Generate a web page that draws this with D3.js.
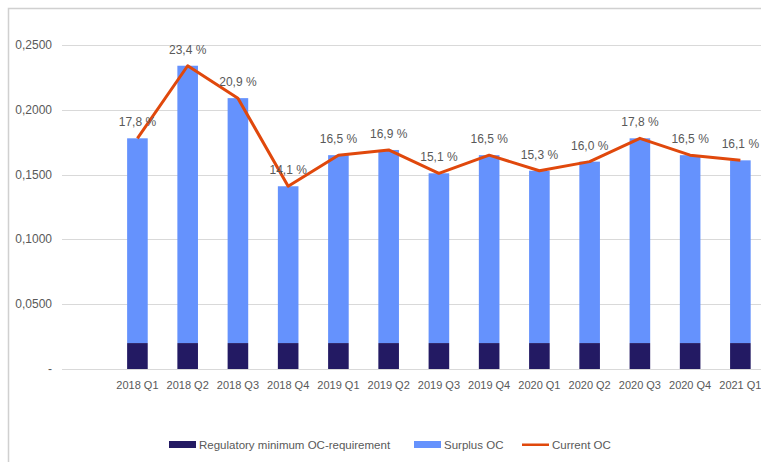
<!DOCTYPE html>
<html>
<head>
<meta charset="utf-8">
<script src="https://cdn.jsdelivr.net/npm/d3@7"></script>
<style>
  body { margin: 0; background: #fff; }
  text { font-family: "Liberation Sans", Arial, sans-serif; fill: #595959; }
</style>
</head>
<body>
<script>
const quarters = ["2018 Q1","2018 Q2","2018 Q3","2018 Q4","2019 Q1","2019 Q2","2019 Q3","2019 Q4","2020 Q1","2020 Q2","2020 Q3","2020 Q4","2021 Q1"];
const regMin = [0.02,0.02,0.02,0.02,0.02,0.02,0.02,0.02,0.02,0.02,0.02,0.02,0.02];
const currentOC = [0.178,0.234,0.209,0.141,0.165,0.169,0.151,0.165,0.153,0.160,0.178,0.165,0.161];
const yTicks = [0, 0.05, 0.10, 0.15, 0.20, 0.25];

const w = 761, h = 462;
const colReg = "#231a63", colSur = "#6592fd", colLine = "#e0480c";

const svg = d3.select("body").append("svg")
  .attr("width", w).attr("height", h);

// frame (left and top edges visible)
svg.append("path")
  .attr("d", "M8.5,462V8.5H761")
  .attr("fill", "none").attr("stroke", "#d0d0d0").attr("stroke-width", 1.5);

const y = d3.scaleLinear().domain([0, 0.25]).range([369, 45]);
const x = d3.scaleBand().domain(quarters).range([112.3, 765.5]).paddingInner(0.59).paddingOuter(0.295);

// gridlines
svg.append("g").selectAll("line")
  .data(yTicks)
  .enter().append("line")
  .attr("x1", 62).attr("x2", 761)
  .attr("y1", d => Math.round(y(d)) + 0.5).attr("y2", d => Math.round(y(d)) + 0.5)
  .attr("stroke", "#d9d9d9").attr("stroke-width", 1);

const fmt = d3.format(".4f");
svg.append("g").selectAll("text")
  .data(yTicks)
  .enter().append("text")
  .attr("x", 52).attr("y", d => y(d) + 4)
  .attr("text-anchor", "end")
  .style("font-size", "12px")
  .text(d => d === 0 ? "-" : fmt(d).replace(".", ","));

// bars
const rows = quarters.map((q, i) => ({ q, reg: regMin[i], sur: currentOC[i] - regMin[i], tot: currentOC[i] }));

svg.append("g").selectAll("rect")
  .data(rows).enter().append("rect")
  .attr("x", d => x(d.q)).attr("width", x.bandwidth())
  .attr("y", d => y(d.tot)).attr("height", d => y(d.reg) - y(d.tot))
  .attr("fill", colSur);

svg.append("g").selectAll("rect")
  .data(rows).enter().append("rect")
  .attr("x", d => x(d.q)).attr("width", x.bandwidth())
  .attr("y", d => y(d.reg)).attr("height", d => y(0) - y(d.reg))
  .attr("fill", colReg);

// x labels
svg.append("g").selectAll("text")
  .data(quarters).enter().append("text")
  .attr("x", d => x(d) + x.bandwidth() / 2).attr("y", 389)
  .attr("text-anchor", "middle")
  .style("font-size", "11px")
  .text(d => d);

// line
const line = d3.line()
  .x(d => x(d.q) + x.bandwidth() / 2)
  .y(d => y(d.tot));
svg.append("path")
  .datum(rows)
  .attr("d", line)
  .attr("fill", "none").attr("stroke", colLine).attr("stroke-width", 3)
  .attr("stroke-linejoin", "round");

// value labels
svg.append("g").selectAll("text")
  .data(rows).enter().append("text")
  .attr("x", d => x(d.q) + x.bandwidth() / 2).attr("y", d => y(d.tot) - 12)
  .attr("text-anchor", "middle")
  .style("font-size", "12px")
  .text(d => (d.tot * 100).toFixed(1).replace(".", ",") + " %");

// legend
const legend = [
  { name: "Regulatory minimum OC-requirement", x: 169, type: "rect", c: colReg },
  { name: "Surplus OC", x: 414, type: "rect", c: colSur },
  { name: "Current OC", x: 522, type: "line", c: colLine }
];
const lg = svg.append("g").selectAll("g").data(legend).enter().append("g");
lg.append("rect")
  .attr("x", d => d.x).attr("width", 27)
  .attr("y", d => d.type === "rect" ? 441 : 443.5)
  .attr("height", d => d.type === "rect" ? 7 : 2.5)
  .attr("fill", d => d.c);
lg.append("text")
  .attr("x", d => d.x + 30).attr("y", 449)
  .style("font-size", "11.5px")
  .text(d => d.name);
</script>
</body>
</html>
